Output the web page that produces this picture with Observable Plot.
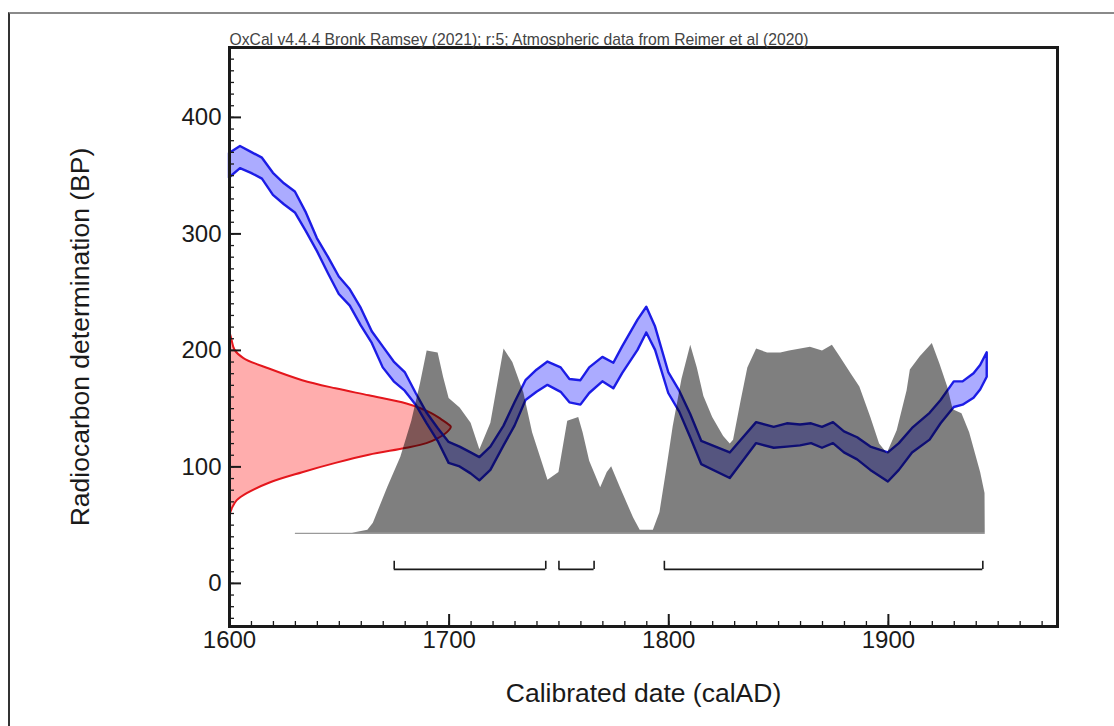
<!DOCTYPE html>
<html><head><meta charset="utf-8">
<script src="https://cdn.jsdelivr.net/npm/d3@7"></script>
<script src="https://cdn.jsdelivr.net/npm/@observablehq/plot@0.6"></script>
<style>
html,body{margin:0;padding:0;background:#fff;}
#wrap{position:relative;width:1114px;height:726px;overflow:hidden;}
#border{position:absolute;left:8px;top:12px;right:-10px;bottom:-10px;border-top:2px solid #8a8a8a;border-left:2px solid #333;pointer-events:none;}
</style></head><body>
<div id="wrap"><div id="chart"></div><div id="border"></div></div>
<script>
// ---- Calibration curve (IntCal20 band, BP) ----
const calYears = [1600,1605,1610,1615,1620,1625,1630,1635,1640,1645,1650,1655,1660,1665,1670,1675,1680,1685,1690,1695,1700,1705,1710,1714,1719,1725,1730,1735,1740,1745,1751,1755,1760,1764,1770,1775,1779,1786,1790,1794,1800,1805,1810,1815,1828,1840,1848,1854,1860,1865,1870,1875,1880,1886,1892,1900,1905,1911,1919,1924,1930,1934,1939,1942,1945];
const calTop = [369,375,370,365,352,343,336,318,296,280,263,252,236,216,203,190,181,163,146,133,121,117,112,108,117,135,155,174,183,190,185,175,174,185,194,189,203,226,237,220,181,165,145,122,112,138,134,137,136,137,134,138,130,125,117,112,120,133,146,157,173,173,180,187,198];
const calBottom = [348,356,352,347,333,325,318,302,285,266,248,238,221,206,185,173,165,153,137,122,103,100,94,88,97,118,135,157,164,170,164,155,153,163,173,167,180,200,215,200,163,147,125,102,90,120,116,117,118,120,116,120,112,106,97,87,97,112,123,137,151,153,159,166,177];

// ---- Radiocarbon measurement distribution (BP, relative density) ----
const redBP = [217,210,200,193,184,174,167,161,154,146,140,136,134,129,124,120,116,110,103,95,86,77,71,65,57];
const redDensity = [0,0.01,0.025,0.065,0.18,0.33,0.48,0.63,0.80,0.91,0.96,0.99,1,0.98,0.94,0.89,0.80,0.63,0.48,0.33,0.18,0.08,0.035,0.015,0];

// ---- Calibrated date distribution (calAD, relative probability) ----
const grayYears = [1630,1656,1663,1665.5,1672,1678,1683,1687,1690,1695,1697.5,1700,1705,1710,1714,1719,1725,1729,1734,1738,1745,1750,1754,1759,1761,1764,1769,1772,1774,1778,1784,1787,1793,1796,1799,1802,1806,1810,1813,1816,1820,1825,1828,1829.5,1833,1836,1840,1845,1851,1855,1864.5,1870,1874.5,1878,1883,1887,1892,1896,1899.5,1904,1908.5,1910,1914.5,1920,1923.5,1927,1929.5,1933.5,1937,1942,1944,1944.1];
const grayProb = [0,0,0.016,0.053,0.24,0.40,0.59,0.79,0.96,0.95,0.82,0.71,0.66,0.58,0.44,0.58,0.97,0.90,0.74,0.53,0.28,0.32,0.59,0.61,0.53,0.38,0.24,0.32,0.35,0.24,0.08,0.016,0.016,0.11,0.33,0.56,0.81,0.99,0.87,0.72,0.61,0.51,0.47,0.49,0.70,0.87,0.97,0.95,0.95,0.96,0.98,0.96,0.99,0.93,0.84,0.77,0.61,0.47,0.42,0.54,0.75,0.86,0.93,1.0,0.89,0.77,0.65,0.63,0.53,0.32,0.21,0];

// ---- 95.4% ranges (calAD) ----
const rangeStarts = [1675,1750,1798];
const rangeEnds = [1744,1766,1943];

// ---- Axis tick labels ----
const xTickLabels = [1600,1700,1800,1900];
const yTickLabels = [0,100,200,300,400];
const xMinorTicks = d3.range(1600, 1971, 10);
const yMinorTicks = d3.range(-30, 451, 10);

const titleText = "OxCal v4.4.4 Bronk Ramsey (2021); r:5; Atmospheric data from Reimer et al (2020)";
const xTitle = "Calibrated date (calAD)";
const yTitle = "Radiocarbon determination (BP)";

// ---- layout ----
const W = 1114, H = 726, ML = 229, MR = 57, MT = 47, MB = 100;
const xDomain = [1600, 1977], yDomain = [-37, 460];
const kx = (W - ML - MR) / (xDomain[1] - xDomain[0]);
const ky = (H - MT - MB) / (yDomain[1] - yDomain[0]);
const grayBase = 43, grayScale = 163;   // BP baseline and height of the calibrated distribution
const redScale = 101;                   // years for the peak of the measurement distribution
const bracketBP = 12, bracketTopBP = 19;

const cal = calYears.map((y, i) => ({year: y, top: calTop[i], bottom: calBottom[i]}));
const red = redBP.map((b, i) => ({bp: b, d: redDensity[i]}));
const gray = grayYears.map((y, i) => ({year: y, p: grayProb[i]}));
const ranges = rangeStarts.map((s, i) => ({start: s, end: rangeEnds[i]}));
const ink = "#1a1a1a";

const chart = Plot.plot({
  width: W, height: H,
  marginLeft: ML, marginRight: MR, marginTop: MT, marginBottom: MB,
  x: {domain: xDomain},
  y: {domain: yDomain},
  style: {fontFamily: "'Liberation Sans', Arial, sans-serif", background: "white", color: ink},
  marks: [
    Plot.ruleY([grayBase], {y: d => d, x1: grayYears[0], x2: grayYears[grayYears.length - 1], stroke: "#9a9a9a", strokeWidth: 1.2}),
    Plot.areaX(red, {y: "bp", x1: xDomain[0], x2: d => xDomain[0] + d.d * redScale, fill: "#ff0000", fillOpacity: 0.32, stroke: "#e4161c", strokeWidth: 2, curve: "catmull-rom"}),
    Plot.areaY(cal, {x: "year", y1: "bottom", y2: "top", fill: "#0000ff", fillOpacity: 0.33, stroke: "#1c1ce6", strokeWidth: 2.4}),
    Plot.areaY(gray, {x: "year", y1: grayBase, y2: d => grayBase + d.p * grayScale, fill: "#000", fillOpacity: 0.5}),
    Plot.ruleY(ranges, {y: bracketBP, x1: "start", x2: "end", stroke: ink, strokeWidth: 1.6}),
    Plot.ruleX(ranges, {x: "start", y1: bracketBP, y2: bracketTopBP, stroke: ink, strokeWidth: 1.6}),
    Plot.ruleX(ranges, {x: "end", y1: bracketBP, y2: bracketTopBP, stroke: ink, strokeWidth: 1.6}),
    Plot.ruleX(xMinorTicks, {x: d => d, y1: yDomain[0], y2: yDomain[0] + 5 / ky, stroke: ink, strokeWidth: 1.3}),
    Plot.ruleX(xTickLabels, {x: d => d, y1: yDomain[0], y2: yDomain[0] + 12 / ky, stroke: ink, strokeWidth: 2}),
    Plot.ruleY(yMinorTicks, {y: d => d, x1: xDomain[0], x2: xDomain[0] + 5 / kx, stroke: ink, strokeWidth: 1.3}),
    Plot.ruleY(yTickLabels, {y: d => d, x1: xDomain[0], x2: xDomain[0] + 12 / kx, stroke: ink, strokeWidth: 2}),
    Plot.frame({stroke: ink, strokeWidth: 3}),
    Plot.axisX({ticks: xTickLabels, tickSize: 0, tickPadding: 4, fontSize: 24, label: null, tickFormat: d => String(d)}),
    Plot.axisY({ticks: yTickLabels, tickSize: 0, tickPadding: 8, fontSize: 24, label: null, tickFormat: d => String(d)}),
    Plot.text([titleText], {frameAnchor: "top-left", lineAnchor: "bottom", dy: -3, fontSize: 15.7, fill: "#444"}),
    Plot.text([xTitle], {frameAnchor: "bottom", lineAnchor: "middle", dy: 67, fontSize: 26.5, fill: ink}),
    Plot.text([yTitle], {frameAnchor: "left", textAnchor: "middle", lineAnchor: "middle", rotate: -90, dx: -149, fontSize: 26.5, fill: ink})
  ]
});
document.getElementById("chart").appendChild(chart);
</script>
</body></html>
